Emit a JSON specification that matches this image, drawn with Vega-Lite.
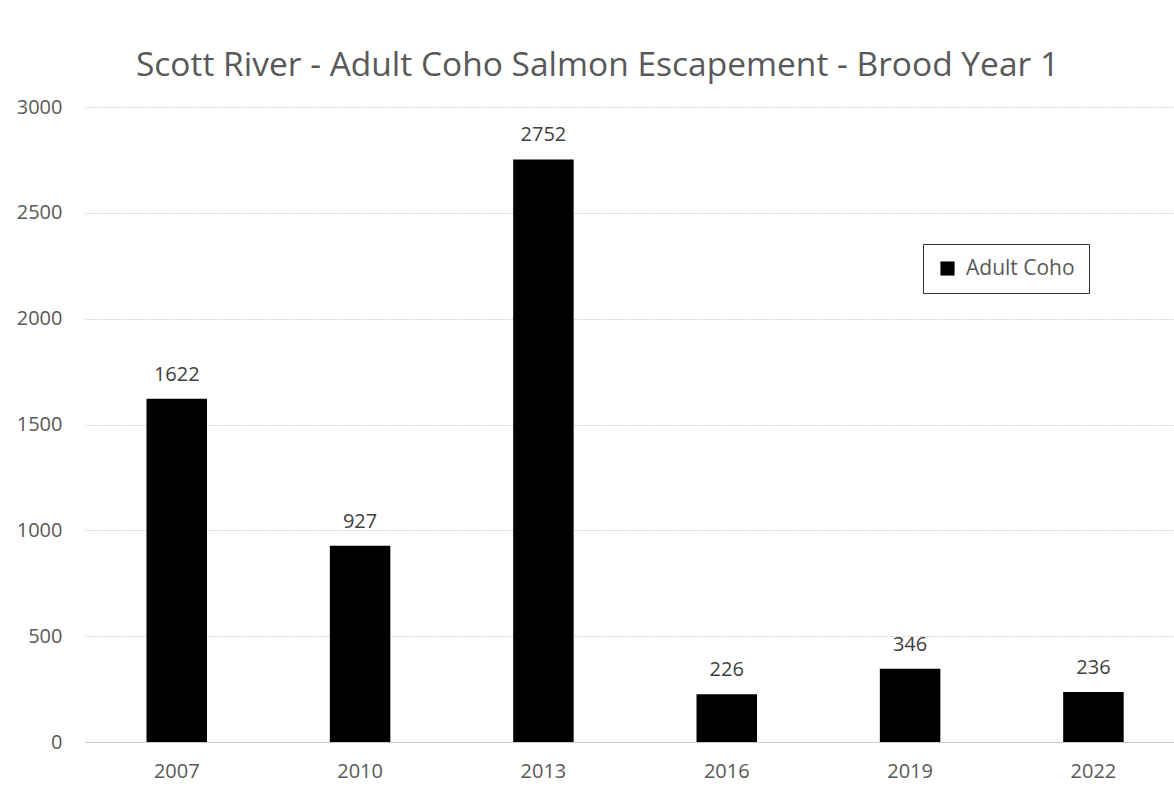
{
  "$schema": "https://vega.github.io/schema/vega-lite/v6.json",
  "autosize": {"type": "none"},
  "width": 1089,
  "height": 635,
  "padding": {"left": 85, "top": 107, "right": 0, "bottom": 44},
  "background": "white",
  "title": {
    "text": "Scott River - Adult Coho Salmon Escapement - Brood Year 1",
    "font": "Open Sans",
    "fontSize": 33.5,
    "fontWeight": "normal",
    "color": "#595959",
    "anchor": "middle",
    "dx": -32,
    "offset": 14
  },
  "data": {
    "values": [
      {"year": "2007", "count": 1622, "series": "Adult Coho"},
      {"year": "2010", "count": 927, "series": "Adult Coho"},
      {"year": "2013", "count": 2752, "series": "Adult Coho"},
      {"year": "2016", "count": 226, "series": "Adult Coho"},
      {"year": "2019", "count": 346, "series": "Adult Coho"},
      {"year": "2022", "count": 236, "series": "Adult Coho"}
    ]
  },
  "encoding": {
    "x": {
      "field": "year",
      "type": "ordinal",
      "scale": {"paddingInner": 0.67, "paddingOuter": 0.305, "align": 0.55},
      "axis": {
        "title": null,
        "labelAngle": 0,
        "ticks": false,
        "domain": true,
        "domainColor": "#c8c8c8",
        "labelFont": "Open Sans",
        "labelFontSize": 20,
        "labelColor": "#595959",
        "labelPadding": 19
      }
    },
    "y": {
      "field": "count",
      "type": "quantitative",
      "scale": {"domain": [0, 3000]},
      "axis": {
        "title": null,
        "values": [0, 500, 1000, 1500, 2000, 2500, 3000],
        "format": "d",
        "ticks": false,
        "domain": false,
        "grid": true,
        "gridColor": "#d4d4d4",
        "gridDash": [2, 1],
        "labelFont": "Open Sans",
        "labelFontSize": 20,
        "labelColor": "#595959",
        "labelPadding": 23
      }
    }
  },
  "layer": [
    {
      "mark": {"type": "bar", "color": "black"},
      "encoding": {
        "color": {
          "field": "series",
          "type": "nominal",
          "scale": {"range": ["black"]},
          "legend": {
            "title": null,
            "orient": "none",
            "legendX": 838,
            "legendY": 137,
            "symbolType": "square",
            "symbolSize": 200,
            "labelFont": "Open Sans",
            "labelFontSize": 21,
            "labelColor": "#595959",
            "labelOffset": 8,
            "strokeColor": "#333333",
            "padding": 14,
            "labelLimit": 200
          }
        }
      }
    },
    {
      "mark": {"type": "text", "baseline": "bottom", "dy": -14, "font": "Open Sans", "fontSize": 20, "color": "#404040"},
      "encoding": {"text": {"field": "count", "type": "quantitative"}}
    }
  ],
  "config": {"view": {"stroke": null}}
}
